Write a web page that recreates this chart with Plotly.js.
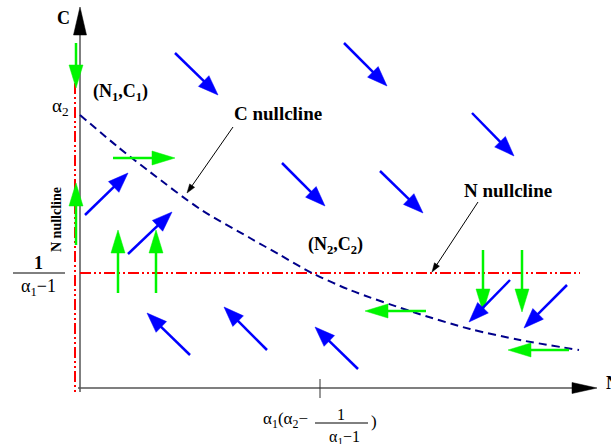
<!DOCTYPE html>
<html>
<head>
<meta charset="utf-8">
<script src="https://cdn.plot.ly/plotly-3.0.1.min.js"></script>
<style>html,body{margin:0;padding:0;background:#fff;}#chart{width:611px;height:444px;}</style>
</head>
<body>
<div id="chart"></div>
<script>
// ---- data (N along x, C along y; arbitrary units) ----
// C nullcline (dashed curve)
const cNullN = [0, 38, 70, 120, 170, 200, 232, 270, 333, 390, 440, 499];
const cNullC = [273, 241, 216, 179, 150, 133, 115, 98, 76, 59, 48, 38];
// N nullclines (dash-dot-dot)
const nNullHorizN = [0, 500];
const nNullHorizC = [115, 115];
const nNullVertN = [-5, -5];
const nNullVertC = [305, -7];
// blue direction arrows: start (N,C) -> tip (N,C)
const blueStartN = [95, 264, 392, 202, 300, 5, 48, 110, 187, 278, 430, 487];
const blueStartC = [335, 345, 275, 225, 217, 173, 134, 33, 38, 19, 108, 103];
const blueEndN   = [138, 307, 434, 245, 343, 48, 92, 67, 144, 235, 389, 444];
const blueEndC   = [293, 302, 232, 182, 175, 215, 176, 75, 81, 61, 66, 60];
// green direction arrows
const greenStartN = [-4, -4, 38, 76, 33, 403, 442, 346, 489];
const greenStartC = [345, 143, 95, 95, 230, 138, 138, 77, 38];
const greenEndN   = [-4, -4, 38, 76, 95, 403, 442, 285, 428];
const greenEndC   = [300, 205, 158, 158, 230, 76, 76, 77, 38];
// pointer arrows for labels
const ptrStartN = [153, 398];
const ptrStartC = [261, 186];
const ptrEndN = [107, 352];
const ptrEndC = [195, 116];
// axes
const axisYN = [0, 0], axisYC = [-4, 353];
const axisXN = [-2, 492], axisXC = [0, 0];
const tickN = 240;
const tickC = [9, -10];

const serif = "Liberation Serif, Times New Roman, serif";
const traces = [];

function arrow(x0, y0, x1, y1, color, L, W, lw) {
  const dx = x1 - x0, dy = y1 - y0;
  const len = Math.hypot(dx, dy);
  const ux = dx / len, uy = dy / len;
  const nx = -uy, ny = ux;
  const bx = x1 - L * ux, by = y1 - L * uy;
  traces.push({x: [x0, bx + ux], y: [y0, by + uy], mode: 'lines', line: {color: color, width: lw}, hoverinfo: 'skip'});
  traces.push({x: [x1, bx + W * nx, bx - W * nx, x1], y: [y1, by + W * ny, by - W * ny, y1],
    mode: 'lines', fill: 'toself', fillcolor: color, line: {color: color, width: 0.5}, hoverinfo: 'skip'});
}

// axes lines
traces.push({x: axisYN, y: axisYC, mode: 'lines', line: {color: '#555', width: 1.5}, hoverinfo: 'skip'});
traces.push({x: axisXN, y: axisXC, mode: 'lines', line: {color: '#555', width: 1.5}, hoverinfo: 'skip'});
traces.push({x: [tickN, tickN], y: tickC, mode: 'lines', line: {color: '#333', width: 1}, hoverinfo: 'skip'});
// axis arrowheads
(function(){
  const hy = [axisYC[1], axisYC[1] + 28];
  traces.push({x: [0 - 6.5, 0 + 6.5, 0, 0 - 6.5], y: [hy[0], hy[0], hy[1], hy[0]], mode: 'lines', fill: 'toself', fillcolor: '#000', line: {color: '#000', width: 0.5}, hoverinfo: 'skip'});
  const hx = [axisXN[1], axisXN[1] + 25];
  traces.push({x: [hx[0], hx[0], hx[1], hx[0]], y: [-5.5, 5.5, 0, -5.5], mode: 'lines', fill: 'toself', fillcolor: '#000', line: {color: '#000', width: 0.5}, hoverinfo: 'skip'});
})();

// N nullclines
const dd = "11px,3px,2px,3px,2px,3px";
traces.push({x: nNullVertN, y: nNullVertC, mode: 'lines', line: {color: '#ff0000', width: 2, dash: dd}, hoverinfo: 'skip'});
traces.push({x: nNullHorizN, y: nNullHorizC, mode: 'lines', line: {color: '#ff0000', width: 2, dash: dd}, hoverinfo: 'skip'});
// C nullcline
traces.push({x: cNullN, y: cNullC, mode: 'lines', line: {color: '#00008b', width: 2, dash: '8px,5px', shape: 'spline', smoothing: 0.8}, hoverinfo: 'skip'});

// arrows
for (let i = 0; i < greenStartN.length; i++) arrow(greenStartN[i], greenStartC[i], greenEndN[i], greenEndC[i], '#00f500', 23, 7, 2.5);
for (let i = 0; i < blueStartN.length; i++) arrow(blueStartN[i], blueStartC[i], blueEndN[i], blueEndC[i], '#0000ff', 20, 7.5, 2.5);
for (let i = 0; i < ptrStartN.length; i++) arrow(ptrStartN[i], ptrStartC[i], ptrEndN[i], ptrEndC[i], '#000000', 9, 3, 1);

// fraction bars
const fracBarN = [[-67, -15], [235, 288]];
const fracBarC = [115, -35];
for (let i = 0; i < fracBarN.length; i++) traces.push({x: fracBarN[i], y: [fracBarC[i], fracBarC[i]], mode: 'lines', line: {color: '#000', width: 1}, hoverinfo: 'skip'});

function txt(x, y, text, size, bold, extra) {
  return Object.assign({x: x, y: y, xref: 'x', yref: 'y', text: bold ? '<b>' + text + '</b>' : text, showarrow: false,
    xanchor: 'center', yanchor: 'middle', font: {family: serif, size: size, color: '#000'}}, extra || {});
}
const annotations = [
  txt(-17, 370, 'C', 18, true),
  txt(524, 5, 'N', 18, true, {xanchor: 'left'}),
  txt(40, 296, '(N<sub>1</sub>,C<sub>1</sub>)', 18, true),
  txt(-20, 281, 'α<sub>2</sub>', 19, false),
  txt(198, 275, 'C nullcline', 19, true),
  txt(428, 198, 'N nullcline', 19, true),
  txt(-24, 168, 'N nullcline', 14, true, {textangle: -90}),
  txt(255, 143, '(N<sub>2</sub>,C<sub>2</sub>)', 18, true),
  txt(-42, 125, '1', 18, true),
  txt(-42, 101, 'α<sub>1</sub>−1', 18, false),
  txt(205, -32, 'α<sub>1</sub>(α<sub>2</sub>−', 17, false),
  txt(261, -26, '1', 16, false),
  txt(264, -49, 'α<sub>1</sub>−1', 16, false),
  txt(294, -33, ')', 17, false)
];

const layout = {
  width: 611, height: 444,
  margin: {l: 0, r: 0, t: 0, b: 0, pad: 0},
  paper_bgcolor: '#fff', plot_bgcolor: '#fff',
  showlegend: false,
  xaxis: {range: [-80, 531], visible: false, fixedrange: true},
  yaxis: {range: [-56, 388], visible: false, fixedrange: true},
  annotations: annotations
};
Plotly.newPlot('chart', traces, layout, {displayModeBar: false, staticPlot: true});
</script>
</body>
</html>
